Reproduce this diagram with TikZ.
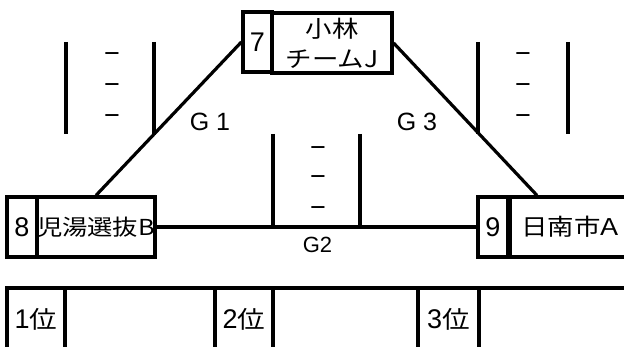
\documentclass[tikz,border=0pt]{standalone}
\usepackage{fontspec}
\setmainfont{Liberation Sans}
\newfontfamily\jp[FakeStretch=1.15]{Noto Sans CJK JP}
\usetikzlibrary{calc}
\begin{document}
\begin{tikzpicture}[x=1pt,y=-1pt,
  cell/.style={draw,line width=3.2pt,inner sep=0pt,minimum height=60pt},
  num/.style={font=\fontsize{27}{27}\selectfont},
  team/.style={font=\jp\fontsize{23}{30}\selectfont,align=center},
  rank/.style={font=\fontsize{27}{27}\selectfont,minimum height=62pt},
  link/.style={line width=3.2pt},
  bar/.style={line width=3.2pt},
  score/.style={font=\fontsize{27}{27}\selectfont,inner sep=0pt},
  glabel/.style={font=\fontsize{25}{25}\selectfont,inner sep=0pt}]
\useasboundingbox (0,0) rectangle (624,347);
\clip (0,0) rectangle (624,347);
% team boxes
\node[cell,minimum width=29pt,num] (n7) at (257.5,42) {7};
\node[cell,minimum width=120pt,team] (t7) at (332,43) {小林\\チームJ};
\node[cell,minimum width=30pt,num] (n8) at (22,227) {8};
\node[cell,minimum width=118pt,team,font=\jp\fontsize{22}{30}\selectfont] (t8) at (96,227) {児湯選抜B};
\node[cell,minimum width=30pt,num] (n9) at (493,227) {9};
\node[cell,minimum width=124pt,team] (t9) at (572,227) {日南市\kern-4ptＡ};
% links
\coordinate (j9) at ($(n9.north)+(44,0)$);
\draw[link] (n7.west) -- (t8.north);
\draw[link] (t7.east) -- (j9);
\draw[link] (t8.east) -- (n9.west);
% score brackets
\coordinate (a1) at (66,42);  \coordinate (a2) at (66,134);
\coordinate (b1) at (154,42); \coordinate (b2) at (154,135);
\coordinate (c1) at (273,134); \coordinate (c2) at (273,227);
\coordinate (d1) at (360,134); \coordinate (d2) at (360,227);
\coordinate (e1) at (478,42); \coordinate (e2) at (478,134);
\coordinate (f1) at (568,42); \coordinate (f2) at (568,134);
\draw[bar] (a1) -- (a2);
\draw[bar] (b1) -- (b2);
\draw[bar] (c1) -- (c2);
\draw[bar] (d1) -- (d2);
\draw[bar] (e1) -- (e2);
\draw[bar] (f1) -- (f2);
% scores
\node[score] (s11) at (112,58) {−};
\node[score] (s12) at (112,89) {−};
\node[score] (s13) at (112,120) {−};
\node[score] (s31) at (523,58) {−};
\node[score] (s32) at (523,89) {−};
\node[score] (s33) at (523,120) {−};
\node[score] (s21) at (318,152) {−};
\node[score] (s22) at (318,181) {−};
\node[score] (s23) at (318,212) {−};
% game labels
\node[glabel] (g1) at (210,122) {G 1};
\node[glabel] (g3) at (417,122) {G 3};
\node[glabel,font=\fontsize{22}{22}\selectfont] (g2) at (317.5,245) {G2};
% ranking table
\node[cell,rank,minimum width=58pt] (r1) at (36,319) {1{\jp\fontsize{24}{24}\selectfont 位}};
\node[cell,rank,minimum width=150pt] (x1) at (140,319) {};
\node[cell,rank,minimum width=58pt] (r2) at (244,319) {2{\jp\fontsize{24}{24}\selectfont 位}};
\node[cell,rank,minimum width=145pt] (x2) at (345.5,319) {};
\node[cell,rank,minimum width=61pt] (r3) at (448.5,319) {3{\jp\fontsize{24}{24}\selectfont 位}};
\node[cell,rank,minimum width=160pt] (x3) at (559,319) {};
\end{tikzpicture}
\end{document}
